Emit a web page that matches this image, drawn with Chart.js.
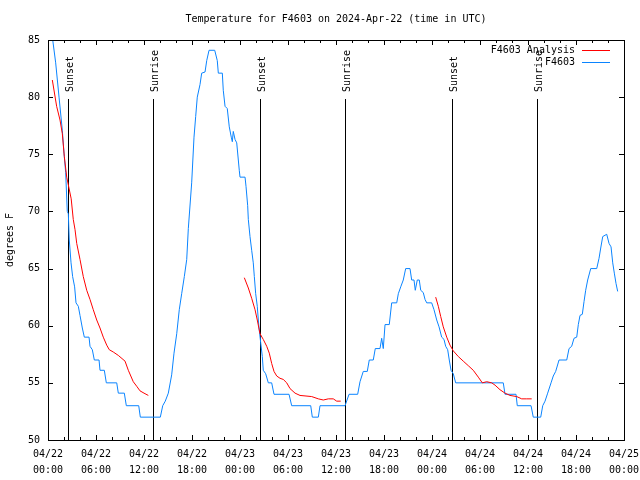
<!DOCTYPE html>
<html>
<head>
<meta charset="utf-8">
<title>Temperature for F4603</title>
<script src="https://cdn.jsdelivr.net/npm/chart.js@4/dist/chart.umd.min.js"></script>
<style>
    html, body { margin: 0; padding: 0; background: #fff; }
    #chart { display: block; }
</style>
</head>
<body>
<canvas id="chart" width="640" height="480"></canvas>
<script>
// Часы от 04/22 00:00 UTC
const xTickLabels = [
    ['04/22', '00:00'], ['04/22', '06:00'], ['04/22', '12:00'], ['04/22', '18:00'],
    ['04/23', '00:00'], ['04/23', '06:00'], ['04/23', '12:00'], ['04/23', '18:00'],
    ['04/24', '00:00'], ['04/24', '06:00'], ['04/24', '12:00'], ['04/24', '18:00'],
    ['04/25', '00:00']
];

const sunHours  = [2.54, 13.16, 26.54, 37.16, 50.54, 61.1];
const sunLabels = ['Sunset', 'Sunrise', 'Sunset', 'Sunrise', 'Sunset', 'Sunrise'];

// Наблюдения F4603
const obsHours = [
    0.50, 0.96, 1.38, 1.79, 2.00, 2.21, 2.41, 2.54, 2.66, 2.88, 3.08, 3.33, 3.50, 3.79, 4.00, 4.29,
    4.54, 5.13, 5.25, 5.54, 5.79, 6.38, 6.50, 7.04, 7.29, 8.59, 8.79, 9.54, 9.79, 11.34, 11.54, 14.04,
    14.34, 14.66, 15.04, 15.46, 15.75, 16.09, 16.41, 16.71, 17.04, 17.34, 17.54, 17.96, 18.25, 18.46,
    18.66, 19.00, 19.21, 19.63, 19.84, 20.13, 20.84, 21.16, 21.29, 21.79, 21.91, 22.13, 22.41, 22.66,
    22.91, 23.04, 23.16, 23.38, 23.59, 23.91, 24.00, 24.63, 24.75, 24.96, 25.04, 25.25, 25.46, 25.66,
    25.79, 25.96, 26.16, 26.29, 26.41, 26.59, 26.79, 26.91, 27.21, 27.54, 27.96, 28.25, 30.13, 30.46,
    32.84, 33.04, 33.79, 34.00, 37.13, 37.63, 38.71, 39.00, 39.41, 39.91, 40.16, 40.66, 40.91, 41.50,
    41.71, 41.91, 42.13, 42.66, 42.96, 43.59, 43.79, 44.09, 44.41, 44.71, 45.25, 45.46, 45.75, 45.91,
    46.16, 46.41, 46.59, 46.91, 47.13, 47.34, 47.96, 48.25, 48.59, 48.88, 49.21, 49.50, 49.71, 49.96,
    50.16, 50.38, 50.66, 50.96, 56.91, 57.13, 58.50, 58.66, 60.38, 60.66, 61.59, 61.84, 62.13, 62.46,
    62.88, 63.16, 63.46, 63.88, 64.84, 65.13, 65.46, 65.75, 66.09, 66.29, 66.50, 66.79, 67.00, 67.21,
    67.46, 67.84, 68.59, 68.88, 69.09, 69.34, 69.84, 70.13, 70.38, 70.59, 70.79, 71.00, 71.21
];
const obsTemps = [
    85.5, 83.0, 80.0, 77.1, 75.1, 73.4, 70.0, 69.8, 67.5, 65.5, 64.3, 63.4, 62.0, 61.7, 60.9, 59.8,
    59.0, 59.0, 58.2, 57.9, 57.0, 57.0, 56.1, 56.1, 55.0, 55.0, 54.1, 54.1, 53.0, 53.0, 52.0, 52.0,
    53.0, 53.4, 54.1, 55.7, 57.6, 59.3, 61.4, 62.8, 64.3, 65.8, 68.5, 72.5, 76.5, 78.3,
    80.0, 81.1, 82.1, 82.2, 83.2, 84.1, 84.1, 83.2, 82.1, 82.1, 80.6, 79.2, 79.0, 77.4,
    76.5, 76.1, 77.0, 76.3, 76.0, 73.6, 73.0, 73.0, 72.2, 70.5, 69.3, 67.8, 66.6, 65.5,
    64.3, 62.8, 61.7, 60.5, 59.6, 58.5, 57.3, 56.1, 55.8, 55.0, 55.0, 54.0, 54.0, 53.0,
    53.0, 52.0, 52.0, 53.0, 53.0, 54.0, 54.0, 55.1, 56.0, 56.0, 57.0, 57.0, 58.0, 58.0,
    58.9, 58.0, 60.1, 60.1, 62.0, 62.0, 62.8, 63.4, 64.0, 65.0, 65.0, 64.0, 64.0, 63.1,
    64.0, 64.0, 63.1, 62.9, 62.3, 62.0, 62.0, 61.4, 60.5, 59.9, 59.0, 58.8, 58.2, 57.9,
    57.0, 56.1, 55.8, 55.0, 55.0, 54.0, 54.0, 53.0, 53.0, 52.0, 52.0, 53.0, 53.4, 54.1,
    55.0, 55.6, 56.0, 57.0, 57.0, 58.0, 58.2, 58.9, 59.0, 60.1, 60.9, 61.0, 62.1, 63.1,
    64.0, 65.0, 65.0, 65.9, 66.8, 67.8, 68.0, 67.2, 66.9, 65.5, 64.6, 63.7, 63.0
];

// Анализ F4603 (null — разрыв между прогонами)
const analysisHours = [
    0.54, 1.08, 1.50, 1.79, 2.04, 2.34, 2.90, 3.16, 3.38, 3.59, 4.00, 4.41, 4.84, 5.25, 5.66, 6.09,
    6.50, 6.91, 7.34, 7.66, 8.16, 8.79, 9.63, 10.04, 10.66, 11.09, 11.50, 12.00, 12.54,
    18.0,
    24.54, 25.04, 25.46, 25.88, 26.16, 26.50, 26.91, 27.34, 27.66, 27.96, 28.25, 28.59, 29.00, 29.41,
    29.84, 30.25, 30.88, 31.50, 32.96, 33.79, 34.41, 35.04, 35.66, 36.09, 36.59,
    42.0,
    48.46, 48.79, 49.09, 49.41, 49.84, 50.25, 50.66, 51.29, 51.91, 52.54, 53.16, 53.79, 54.29, 54.84,
    55.46, 55.88, 56.50, 57.13, 57.75, 58.59, 59.21, 59.84, 60.46
];
const analysisTemps = [
    81.5, 79.2, 78.0, 76.8, 74.8, 73.0, 71.1, 69.3, 68.4, 67.2, 65.8, 64.3, 63.1, 62.3, 61.4, 60.5,
    59.8, 59.0, 58.3, 57.9, 57.7, 57.4, 56.9, 56.1, 55.1, 54.7, 54.3, 54.1, 53.9,
    null,
    64.2, 63.3, 62.4, 61.4, 60.5, 59.3, 58.8, 58.2, 57.6, 56.7, 56.0, 55.6, 55.4, 55.3,
    55.0, 54.5, 54.1, 53.9, 53.8, 53.6, 53.5, 53.6, 53.6, 53.4, 53.4,
    null,
    62.5, 61.7, 60.8, 59.9, 59.0, 58.3, 57.8, 57.3, 56.9, 56.5, 56.1, 55.5, 55.0, 55.1,
    55.0, 54.8, 54.4, 54.1, 53.9, 53.8, 53.6, 53.6, 53.6
];

const FONT = 'DejaVu Sans Mono';
const toPoints = (xs, ys) => xs.map((x, i) => ({ x: x, y: ys[i] }));

// Рамка, засечки внутрь, линии восхода/заката, легенда и заголовок в стиле gnuplot
const gnuplotDecor = {
    id: 'gnuplotDecor',

    beforeDatasetsDraw(chart) {
        const { ctx, chartArea, scales: { x } } = chart;
        ctx.save();
        ctx.strokeStyle = '#000';
        ctx.lineWidth = 1;
        ctx.fillStyle = '#000';
        ctx.font = `10px "${FONT}"`;
        sunHours.forEach((h, i) => {
            const px = Math.round(x.getPixelForValue(h)) + 0.5;
            ctx.beginPath();
            ctx.moveTo(px, 99);
            ctx.lineTo(px, chartArea.bottom);
            ctx.stroke();

            ctx.save();
            ctx.translate(px + 1.5, 92);
            ctx.rotate(-Math.PI / 2);
            ctx.textAlign = 'left';
            ctx.textBaseline = 'middle';
            ctx.fillText(sunLabels[i], 0, 0);
            ctx.restore();
        });
        ctx.restore();
    },

    afterDraw(chart) {
        const { ctx, chartArea: a, scales: { x, y } } = chart;
        ctx.save();
        ctx.strokeStyle = '#000';
        ctx.lineWidth = 1;

        // рамка
        ctx.strokeRect(a.left + 0.5, a.top + 0.5, a.right - a.left, a.bottom - a.top);

        // засечки: по X — каждые 2 часа, крупные каждые 6
        ctx.beginPath();
        for (let h = 0; h <= 72; h += 2) {
            const px = Math.round(x.getPixelForValue(h)) + 0.5;
            const len = h % 6 === 0 ? 5 : 3;
            ctx.moveTo(px, a.bottom); ctx.lineTo(px, a.bottom - len);
            ctx.moveTo(px, a.top); ctx.lineTo(px, a.top + len);
        }
        for (let t = 50; t <= 85; t += 5) {
            const py = Math.round(y.getPixelForValue(t)) + 0.5;
            ctx.moveTo(a.left, py); ctx.lineTo(a.left + 5, py);
            ctx.moveTo(a.right, py); ctx.lineTo(a.right - 5, py);
        }
        ctx.stroke();

        // заголовок
        ctx.fillStyle = '#000';
        ctx.font = `10px "${FONT}"`;
        ctx.textAlign = 'center';
        ctx.textBaseline = 'middle';
        ctx.fillText('Temperature for F4603 on 2024-Apr-22 (time in UTC)', (a.left + a.right) / 2, 19);

        // легенда
        ctx.textAlign = 'right';
        chart.data.datasets.forEach((ds, i) => {
            const ly = 50 + i * 12;
            ctx.fillText(ds.label, 575, ly);
            ctx.strokeStyle = ds.borderColor;
            ctx.beginPath();
            ctx.moveTo(582, ly + 0.5);
            ctx.lineTo(610, ly + 0.5);
            ctx.stroke();
        });
        ctx.restore();
    }
};

new Chart(document.getElementById('chart'), {
    type: 'line',
    data: {
        datasets: [
            {
                label: 'F4603 Analysis',
                data: toPoints(analysisHours, analysisTemps),
                borderColor: '#ff0000',
                borderWidth: 1,
                pointRadius: 0,
                spanGaps: false
            },
            {
                label: 'F4603',
                data: toPoints(obsHours, obsTemps),
                borderColor: '#0a84ff',
                borderWidth: 1,
                pointRadius: 0
            }
        ]
    },
    options: {
        responsive: false,
        animation: false,
        layout: { padding: { top: 40, right: 16, bottom: 0, left: 0 } },
        plugins: {
            legend: { display: false },
            title: { display: false },
            tooltip: { enabled: false }
        },
        scales: {
            x: {
                type: 'linear',
                min: 0,
                max: 72,
                grid: { display: false, drawTicks: false },
                border: { display: false },
                ticks: {
                    stepSize: 6,
                    autoSkip: false,
                    maxRotation: 0,
                    padding: 6,
                    color: '#000',
                    font: { family: FONT, size: 10, lineHeight: 1.6 },
                    callback: (v) => xTickLabels[Math.round(v / 6)]
                },
                afterFit: (s) => {
                    s.height = 40;
                    s.paddingLeft = 0;
                    s.paddingRight = 0;
                }
            },
            y: {
                min: 50,
                max: 85,
                grid: { display: false, drawTicks: false },
                border: { display: false },
                ticks: {
                    stepSize: 5,
                    padding: 8,
                    color: '#000',
                    font: { family: FONT, size: 10 }
                },
                title: {
                    display: true,
                    text: 'degrees F',
                    color: '#000',
                    font: { family: FONT, size: 10 },
                    padding: { top: 4, bottom: 0 }
                },
                afterFit: (s) => {
                    s.width = 48;
                    s.paddingTop = 0;
                    s.paddingBottom = 0;
                }
            }
        }
    },
    plugins: [gnuplotDecor]
});
</script>
</body>
</html>
